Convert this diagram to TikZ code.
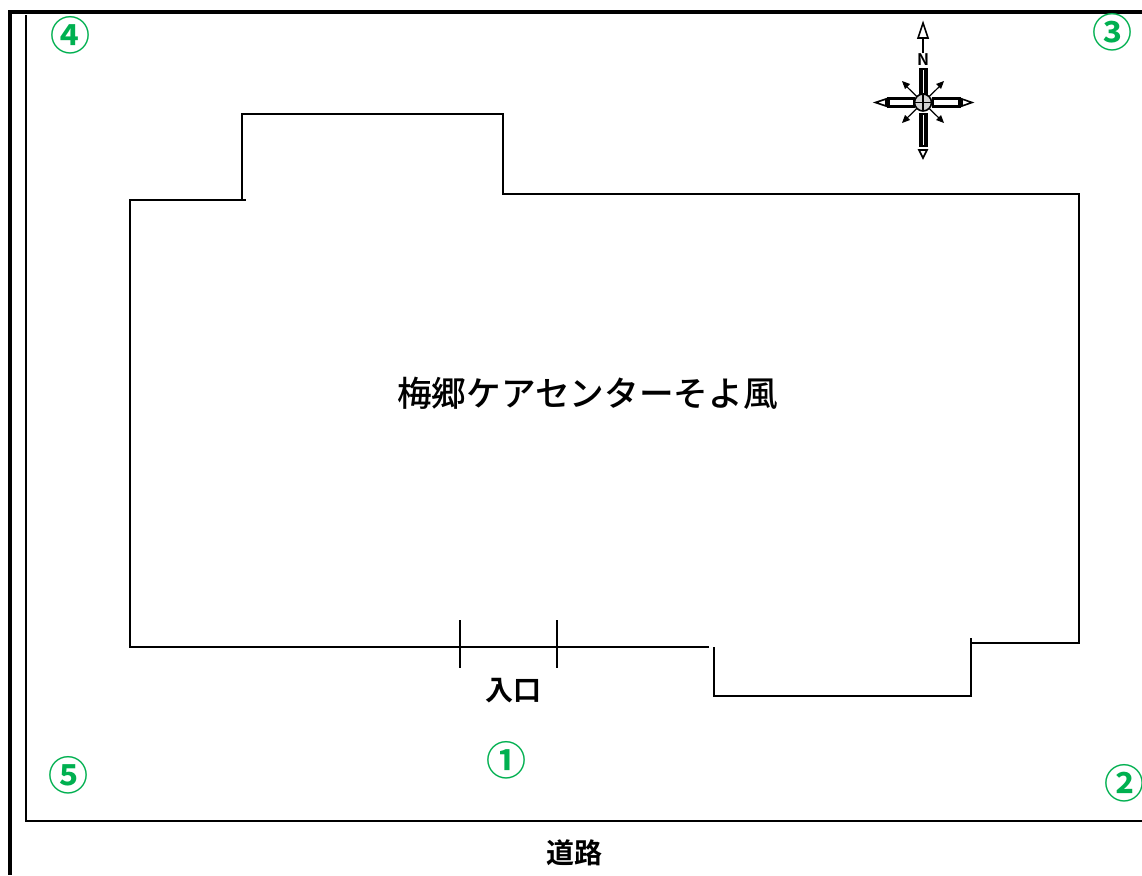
\documentclass[tikz,border=0pt]{standalone}
\usepackage{fontspec}
\setmainfont{Noto Sans CJK JP}
\newfontfamily\jpb{Noto Sans CJK JP Bold}
\newfontfamily\jpm{Noto Sans CJK JP Medium}
\definecolor{mark}{RGB}{0,176,80}
\begin{document}
\begin{tikzpicture}[x=0.75pt,y=-0.75pt,
  wall/.style={draw=black,line width=1.5pt,line cap=butt},
  num/.style={text=mark,font=\jpb\fontsize{30}{30}\selectfont,inner sep=0pt},
  lab/.style={font=\jpb\fontsize{21}{21}\selectfont,inner sep=0pt},
  cmp/.style={draw=black,line width=0.9pt}]
\useasboundingbox (0,0) rectangle (1142,875);
\fill[white] (0,0) rectangle (1142,875);
% outer frame
\draw[draw=black,line width=3pt] (1142,11.5) -- (9.5,11.5) -- (9.5,875);
% site boundary
\draw[wall] (25.5,15) -- (25.5,820.5) -- (1142,820.5);
% building
\draw[wall] (129.5,199) -- (129.5,646);
\draw[wall] (129,199.5) -- (246,199.5);
\draw[wall] (241.5,200) -- (241.5,113);
\draw[wall] (241,113.5) -- (503,113.5);
\draw[wall] (502.5,113) -- (502.5,194);
\draw[wall] (502,193.5) -- (1080,193.5);
\draw[wall] (1079,193) -- (1079,643);
\draw[wall] (1079.5,642.5) -- (970,642.5);
\draw[wall] (970.5,638) -- (970.5,696);
\draw[wall] (972,695.5) -- (713,695.5);
\draw[wall] (713.5,696) -- (713.5,647);
\draw[wall] (709,646.5) -- (129,646.5);
% entrance
\draw[wall] (459.5,620) -- (459.5,668);
\draw[wall] (556.5,620) -- (556.5,668);
% compass
\begin{scope}
\draw[cmp] (923,38) -- (923,53);
\draw[cmp,line width=1.2pt,fill=white] (923,23) -- (928,38) -- (918,38) -- cycle;
\node[inner sep=0pt,font=\jpb\fontsize{12}{12}\selectfont] (north) at (923,60) {N};
\fill[black] (918.5,68) rectangle (928,95);
\fill[black] (918.5,113) rectangle (928,147);
\draw[white,line width=0.6pt] (923.3,70) -- (923.3,93) (923.3,115) -- (923.3,145);
\draw[cmp,line width=1.2pt,fill=white] (923,158) -- (927,150) -- (919,150) -- cycle;
\draw[black,fill=white,line width=1.9pt] (888.5,98.5) rectangle (914,106.5) (933,98.5) rectangle (959.5,106.5);
\draw[cmp,line width=1.2pt,fill=white] (875.5,102.5) -- (886,99) -- (886,106) -- cycle;
\draw[cmp,line width=1.2pt,fill=white] (972,102.5) -- (962,99) -- (962,106) -- cycle;
\draw[cmp] (904,84) -- (942,121) (942,84) -- (904,121);
\fill[black] (902,81) -- (910,84) -- (905,89) -- cycle;
\fill[black] (944,81) -- (936,84) -- (941,89) -- cycle;
\fill[black] (902,123) -- (910,120) -- (905,115) -- cycle;
\fill[black] (944,123) -- (936,120) -- (941,115) -- cycle;
\draw[black,line width=1.2pt,fill=gray!35] (923,102.5) circle (8.5);
\draw[black,line width=1pt] (914.5,102.5) -- (931.5,102.5) (923,94) -- (923,111);
\end{scope}
% texts
\node[inner sep=0pt,font=\jpm\fontsize{26}{26}\selectfont] (title) at (587.5,393) {梅郷ケアセンターそよ風};
\node[lab] (entry) at (513,691) {入口};
\node[lab] (road) at (574,853) {道路};
\node[num] (n1) at (506,760) {①};
\node[num] (n2) at (1124,783) {②};
\node[num] (n3) at (1112,32) {③};
\node[num] (n4) at (70,35) {④};
\node[num] (n5) at (68,775) {⑤};
\end{tikzpicture}
\end{document}
